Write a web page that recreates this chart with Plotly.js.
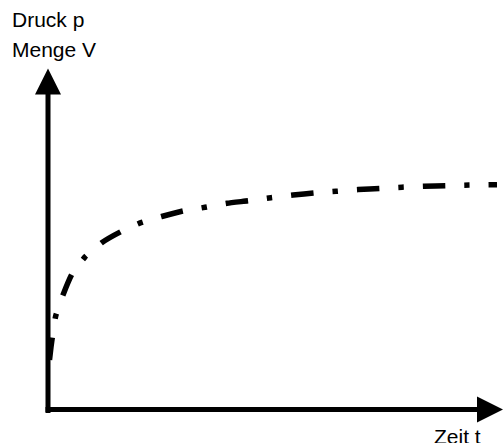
<!DOCTYPE html>
<html>
<head>
<meta charset="utf-8">
<script src="https://cdn.plot.ly/plotly-3.0.1.min.js"></script>
<style>html,body{margin:0;padding:0;background:#fff;}#chart{width:504px;height:443px;}</style>
</head>
<body>
<div id="chart"></div>
<script>
// Schematic curve: time t vs. pressure/volume (arbitrary units)
const zeit = [1.5, 3, 4.5, 7.7, 15, 24, 37, 53.7, 72.7, 93, 113.7, 135, 157, 179, 201, 223, 245, 267, 288, 310, 333, 354, 376, 399, 421, 449];
const druck = [49.5, 62.5, 73.5, 93.5, 114.5, 135.5, 152.5, 166.8, 177.8, 186.8, 193, 198.5, 202.2, 206.2, 208.8, 211.8, 214.5, 216.6, 218.2, 219.9, 221.2, 222.3, 223.2, 223.8, 224.4, 224.8];
const yLabel1 = "Druck p";
const yLabel2 = "Menge V";
const xLabel = "Zeit t";

const trace = {
  x: zeit, y: druck, type: 'scatter', mode: 'lines',
  line: {color: '#000', width: 5.5, dash: '22.5px,19px,5.5px,19px', shape: 'spline', smoothing: 0.5},
  hoverinfo: 'skip'
};

const font = {family: 'Liberation Sans, Arial, sans-serif', size: 21, color: '#000'};
const layout = {
  width: 504, height: 443,
  margin: {l: 0, r: 0, t: 0, b: 0, pad: 0},
  paper_bgcolor: '#fff', plot_bgcolor: '#fff',
  showlegend: false,
  xaxis: {range: [-48, 456], visible: false, fixedrange: true},
  yaxis: {range: [-33.5, 409.5], visible: false, fixedrange: true},
  shapes: [
    {type: 'line', xref: 'x', yref: 'y', x0: 0, y0: -3.5, x1: 0, y1: 316, line: {color: '#000', width: 5}},
    {type: 'path', xref: 'x', yref: 'y', path: 'M -13,315 L 0,341 L 13,315 Z', fillcolor: '#000', line: {color: '#000', width: 0}},
    {type: 'line', xref: 'x', yref: 'y', x0: -2.5, y0: 0, x1: 430, y1: 0, line: {color: '#000', width: 5}},
    {type: 'path', xref: 'x', yref: 'y', path: 'M 429,13 L 455,0 L 429,-13 Z', fillcolor: '#000', line: {color: '#000', width: 0}}
  ],
  annotations: [
    {text: yLabel1, xref: 'paper', yref: 'paper', x: 10/504, y: 1 - 20/443, xanchor: 'left', yanchor: 'middle', showarrow: false, font: font},
    {text: yLabel2, xref: 'paper', yref: 'paper', x: 10/504, y: 1 - 50/443, xanchor: 'left', yanchor: 'middle', showarrow: false, font: font},
    {text: xLabel, xref: 'paper', yref: 'paper', x: 432/504, y: 1 - 436/443, xanchor: 'left', yanchor: 'middle', showarrow: false, font: font}
  ]
};

Plotly.newPlot('chart', [trace], layout, {staticPlot: true, displayModeBar: false});
</script>
</body>
</html>
